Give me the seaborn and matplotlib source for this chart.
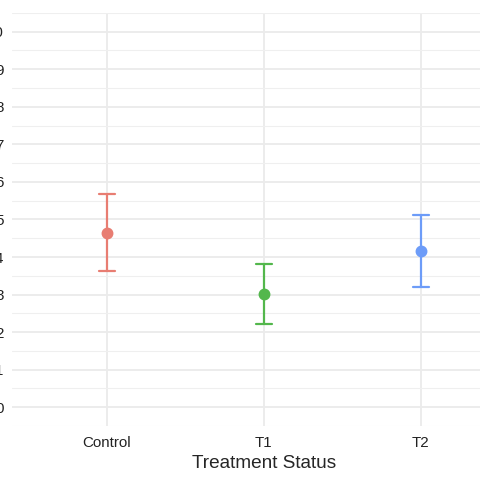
import numpy as np
import pandas as pd
import matplotlib
matplotlib.use('Agg')
import matplotlib.pyplot as plt
import seaborn as sns

# values
groups = ['Control', 'T1', 'T2']
means = [4.65, 3.02, 4.17]
lower = [3.63, 2.22, 3.19]
upper = [5.68, 3.82, 5.13]
colors = ['#E87D72', '#53B74C', '#6D9CF8']
y_ticks = list(range(0, 11))

sns.set_style('white')
plt.rcParams['font.family'] = ['Liberation Sans', 'DejaVu Sans']

# long table: median of (low, mid, high) is the point, min/max the error bar
rows = []
for g, lo, m, hi in zip(groups, lower, means, upper):
    for v in (lo, m, hi):
        rows.append({'group': g, 'value': v})
df = pd.DataFrame(rows)

fig = plt.figure(figsize=(4.8, 4.8), dpi=100)
ax = fig.add_axes([0.026, 0.1125, 1.047, 0.8606])

sns.pointplot(data=df, x='group', y='value', hue='group', order=groups,
              hue_order=groups, palette=colors, estimator='median',
              errorbar=('pi', 100), capsize=0.1, linestyle='none',
              markers='o', markersize=6.5, err_kws={'linewidth': 1.6},
              legend=False, ax=ax)

ax.set_xlim(-0.6, 2.6)
ax.set_ylim(-0.5, 10.5)
ax.set_yticks(y_ticks)
ax.set_yticks(np.arange(-0.5, 11, 1.0), minor=True)
ax.set_yticklabels([str(t) for t in y_ticks])

ax.set_axisbelow(True)
ax.grid(True, which='major', axis='both', color='#EBEBEB', linewidth=1.3)
ax.grid(True, which='minor', axis='y', color='#EFEFEF', linewidth=0.8)
for s in ax.spines.values():
    s.set_visible(False)

ax.tick_params(axis='both', which='both', length=0, labelsize=10.9,
               labelcolor='#222222')
ax.tick_params(axis='x', pad=7.3)
ax.tick_params(axis='y', pad=6.5)
ax.set_xlabel('Treatment Status', fontsize=13.7, labelpad=3.5)
ax.set_ylabel('')

fig.savefig('out.png', dpi=100)
